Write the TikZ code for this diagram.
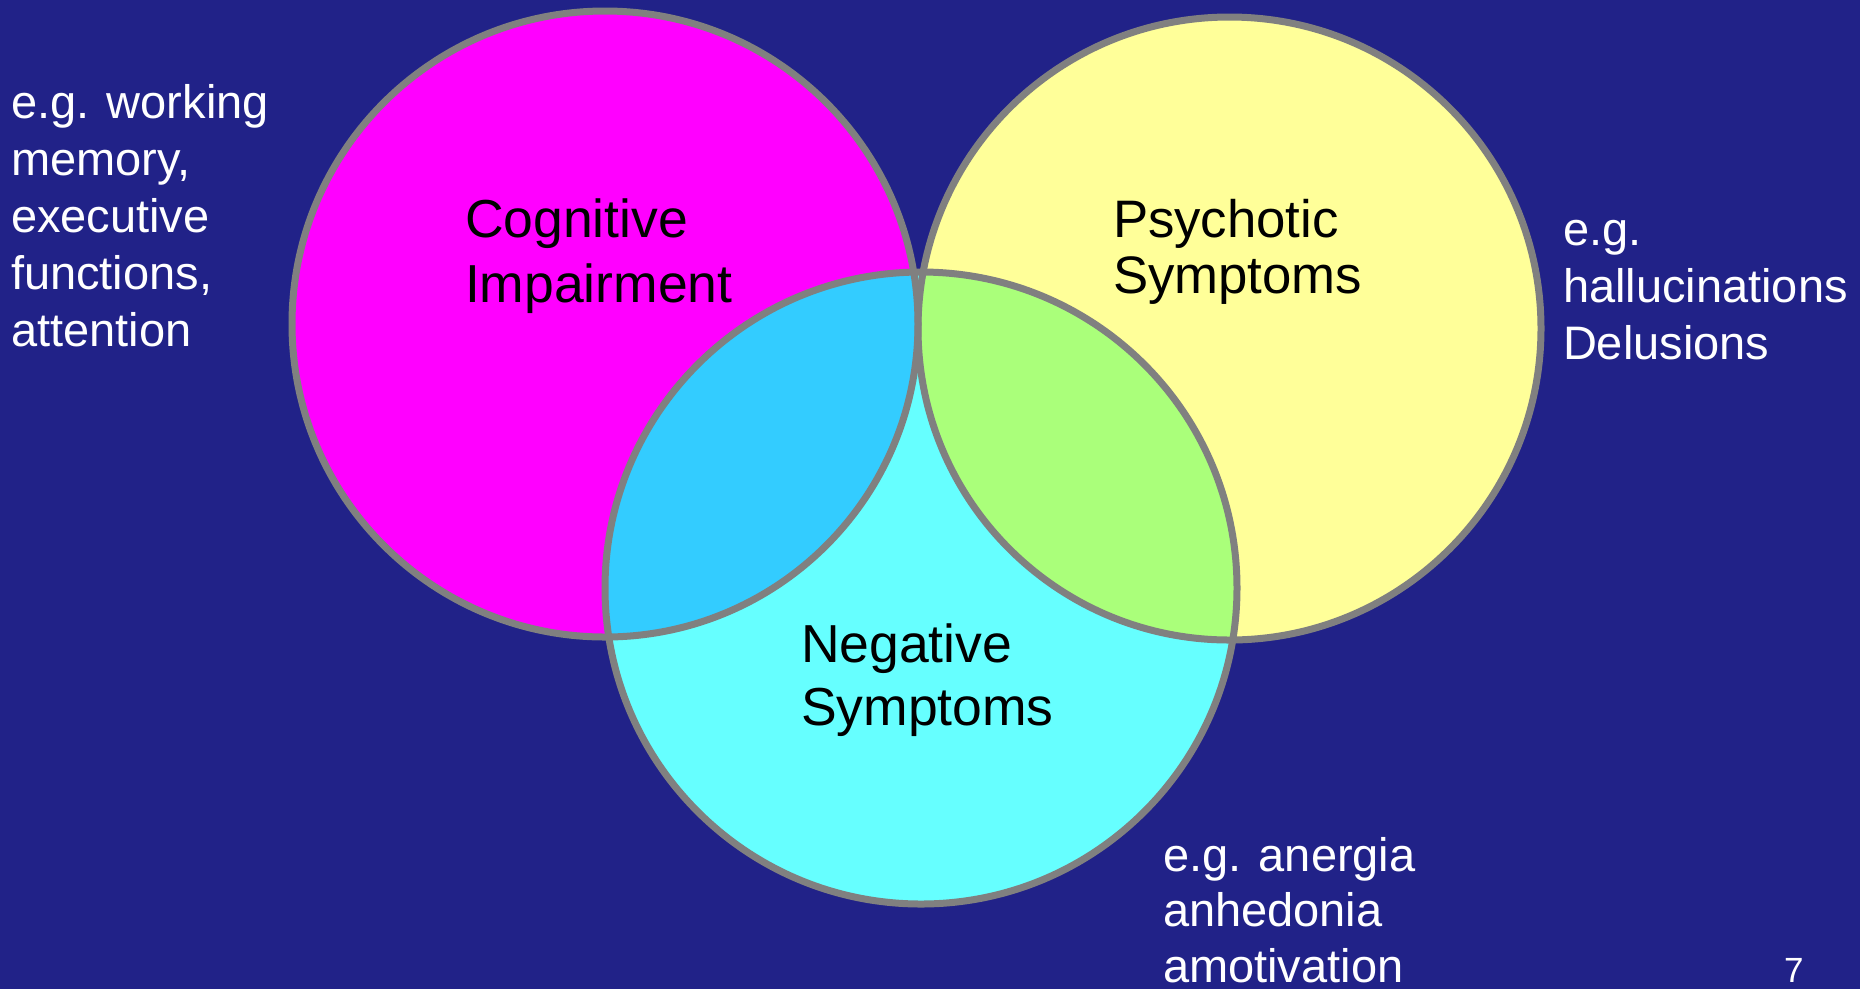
\documentclass[tikz,border=0pt]{standalone}
\usepackage{fontspec}
\setmainfont{Liberation Sans}
\definecolor{bgblue}{RGB}{33,34,136}
\definecolor{cogfill}{RGB}{255,0,255}
\definecolor{psyfill}{RGB}{255,255,153}
\definecolor{negfill}{RGB}{102,255,255}
\definecolor{cognegfill}{RGB}{51,204,255}
\definecolor{psynegfill}{RGB}{170,255,122}
\definecolor{ringgray}{RGB}{128,128,128}
\tikzset{
  ring/.style={draw=ringgray, line width=2.8pt},
  basetext/.style={anchor=base west, inner sep=0pt, outer sep=0pt},
  sidetext/.style={basetext, text=white, font=\fontsize{18.8pt}{22.8pt}\selectfont},
  bottomtext/.style={basetext, text=white, font=\fontsize{18.8pt}{22.2pt}\selectfont},
  cogtext/.style={basetext, text=black, font=\fontsize{21.4pt}{26pt}\selectfont},
  psytext/.style={basetext, text=black, font=\fontsize{21.1pt}{22.6pt}\selectfont},
  negtext/.style={basetext, text=black, font=\fontsize{21.4pt}{25.2pt}\selectfont},
  pagenum/.style={basetext, text=white, font=\fontsize{14pt}{16pt}\selectfont},
}
\begin{document}
\begin{tikzpicture}[x=0.4pt, y=-0.4pt]
  \useasboundingbox (0,0) rectangle (1860,989);
  \fill[bgblue] (0,0) rectangle (1860,989);

  \coordinate (cog) at (605,324);
  \coordinate (psy) at (1229.5,328.5);
  \coordinate (neg) at (921,588);

  % base fills
  \fill[cogfill] (cog) circle (313);
  \fill[psyfill] (psy) circle (311.5);
  \fill[negfill] (neg) circle (316);

  % overlaps
  \begin{scope}
    \clip (cog) circle (313);
    \fill[cognegfill] (neg) circle (316);
  \end{scope}
  \begin{scope}
    \clip (psy) circle (311.5);
    \fill[psynegfill] (neg) circle (316);
  \end{scope}

  % outlines
  \draw[ring] (cog) circle (313);
  \draw[ring] (psy) circle (311.5);
  \draw[ring] (neg) circle (316);

  % labels inside circles
  \node[cogtext] (cogLabel) at (465,237) {\vtop{\hbox{Cognitive}\hbox{Impairment}}};
  \node[psytext] (psyLabel) at (1113,237) {\vtop{\hbox{Psychotic}\hbox{Symptoms}}};
  \node[negtext] (negLabel) at (801,662) {\vtop{\hbox{Negative}\hbox{Symptoms}}};

  % examples
  \node[sidetext] (cogEx) at (11,118) {\vtop{\hbox{e.g. working}\hbox{memory,}\hbox{executive}\hbox{functions,}\hbox{attention}}};
  \node[sidetext] (psyEx) at (1563,245) {\vtop{\hbox{e.g.}\hbox{hallucinations}\hbox{Delusions}}};
  \node[bottomtext] (negEx) at (1163,871) {\vtop{\hbox{e.g. anergia}\hbox{anhedonia}\hbox{amotivation}}};

  \node[pagenum] (page) at (1784,982) {7};
\end{tikzpicture}
\end{document}
